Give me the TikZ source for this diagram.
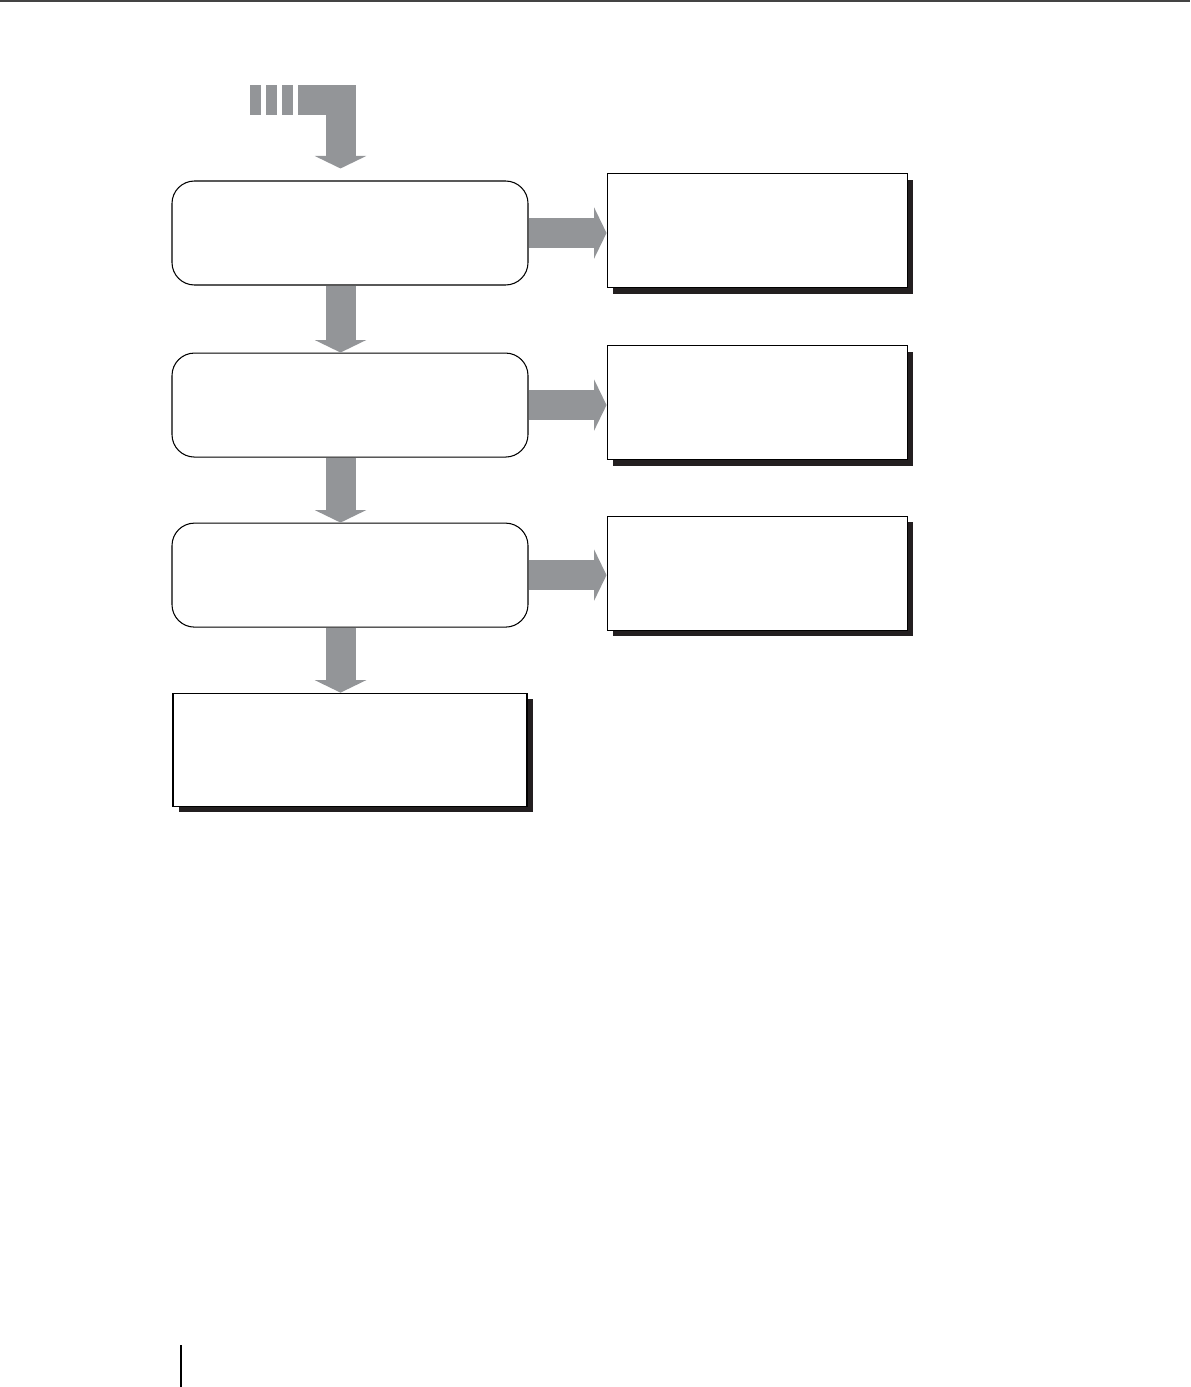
\documentclass[tikz,border=0pt]{standalone}
\usepackage{xcolor}
\usepackage{tikz}
\usetikzlibrary{
  arrows.meta,
  positioning,
  calc,
  shadows
}
\definecolor{fcGrey}{HTML}{939598}
\definecolor{fcShadow}{HTML}{231F20}
\definecolor{fcRule}{HTML}{444444}
\tikzset{
  stagebox/.style={
    draw, fill=white, rounded corners=4.5mm, line width=0.6pt,
    minimum width=71.2mm, minimum height=20.8mm
  },
  notebox/.style={
    draw, fill=white, line width=0.6pt, minimum width=60mm, minimum height=22.8mm,
    drop shadow={shadow xshift=1.2mm, shadow yshift=-1.2mm, fill=fcShadow, opacity=1}
  },
  resultbox/.style={notebox, minimum width=70.8mm, minimum height=22.6mm},
  fatflow/.style={draw=fcGrey, line width=6mm, line join=miter,
    -{Triangle[length=2.5mm, width=10.3mm, line width=0pt]}},
  pagerule/.style={line width=0.4mm}
}

\begin{document}
\begin{tikzpicture}[node distance=13mm and 15.6mm]
  \useasboundingbox (0,0) rectangle (23.8,-27.74);
  % page rules
  \draw[pagerule, fcRule] (0,-0.02) -- (23.8,-0.02);
  \draw[pagerule, black] (3.614,-26.9) -- (3.614,-27.74);

  % stages
  \node[stagebox] (b1) at (7.0,-4.66) {};
  \node[stagebox, below=13.4mm of b1] (b2) {};
  \node[stagebox, below=of b2] (b3) {};
  \node[resultbox, below=of b3] (b4) {};

  % side notes
  \node[notebox, right=of b1, yshift=0.5mm] (r1) {};
  \node[notebox, right=of b2, yshift=0.5mm] (r2) {};
  \node[notebox, right=of b3, yshift=0.4mm] (r3) {};

  % incoming flow
  \coordinate (feed) at (5.96,-2.0);
  \draw[fatflow, -, dash pattern=on 2.1mm off 1.1mm] ([xshift=-9.6mm]feed) -- ([xshift=-1.1mm]feed);
  \draw[fatflow] (feed) -| ([xshift=-1.9mm, yshift=2.4mm]b1.north);

  % flows
  \draw[fatflow] ([xshift=-1.9mm]b1.south) -- ([xshift=-1.9mm]b2.north);
  \draw[fatflow] ([xshift=-1.9mm]b2.south) -- ([xshift=-1.9mm]b3.north);
  \draw[fatflow] ([xshift=-1.9mm]b3.south) -- ([xshift=-1.9mm]b4.north);
  \draw[fatflow] (b1.east) -- (b1.east -| r1.west);
  \draw[fatflow] (b2.east) -- (b2.east -| r2.west);
  \draw[fatflow] (b3.east) -- (b3.east -| r3.west);
\end{tikzpicture}
\end{document}
